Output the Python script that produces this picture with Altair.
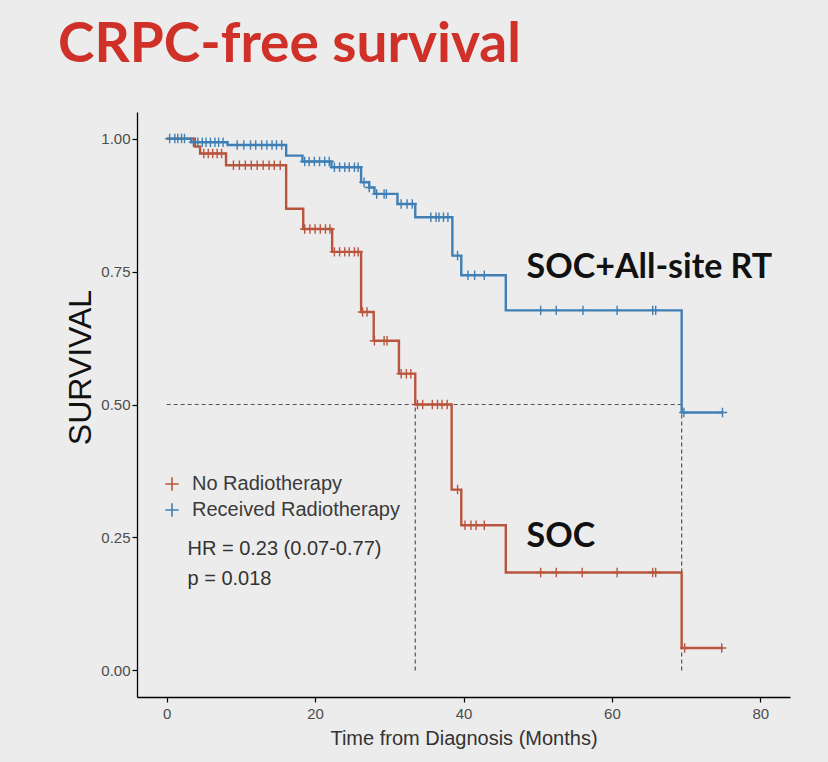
import altair as alt
import pandas as pd

groups = ["No Radiotherapy", "Received Radiotherapy"]
colors = ["#b9553e", "#3f7fb4"]

# Kaplan-Meier step curves (time in months, survival after the step)
red_times = [0, 3.8, 4.5, 8.0, 16.1, 18.4, 22.3, 26.2, 27.9, 31.3, 33.5, 38.4, 39.7, 45.7, 69.4, 75.0]
red_surv = [1.0, 0.985, 0.972, 0.95, 0.868, 0.83, 0.787, 0.674, 0.62, 0.558, 0.50, 0.34, 0.273, 0.184, 0.042, 0.042]
blue_times = [0, 3.3, 8.2, 16.1, 18.3, 22.2, 26.2, 27.3, 28.0, 31.1, 33.5, 38.5, 39.7, 45.7, 69.4, 75.0]
blue_surv = [1.0, 0.993, 0.988, 0.968, 0.957, 0.946, 0.918, 0.908, 0.896, 0.877, 0.852, 0.78, 0.743, 0.677, 0.485, 0.485]

# censoring times
red_censor = [5.0, 5.6, 6.2, 6.8, 7.4, 9.0, 9.8, 10.6, 11.4, 12.2, 13.0, 13.8, 14.5, 15.3,
              18.6, 19.3, 20.0, 20.7, 21.4, 22.0, 22.6, 23.3, 24.0, 24.6, 25.3, 25.8, 26.4, 27.0,
              28.0, 29.3, 29.7, 31.6, 32.3, 32.9, 33.8, 34.5, 35.8, 36.5, 37.1, 37.8, 39.2, 40.2,
              41.0, 41.7, 42.8, 50.4, 52.5, 56.0, 60.7, 65.5, 65.9, 69.8, 74.8]
blue_censor = [0.4, 1.1, 1.5, 2.0, 2.4, 3.6, 4.2, 4.8, 5.3, 5.9, 6.5, 7.0, 7.6, 9.5, 10.4, 11.3,
               12.0, 12.8, 13.5, 14.2, 14.8, 15.5, 18.6, 19.2, 19.9, 20.6, 21.3, 21.9, 22.6, 23.3,
               24.0, 24.6, 25.3, 25.8, 26.6, 27.3, 28.3, 29.3, 29.6, 31.6, 32.4, 33.1, 35.6, 36.3,
               36.7, 37.3, 37.9, 39.2, 40.6, 41.5, 42.8, 50.4, 52.5, 56.1, 60.7, 65.5, 65.9, 69.7, 74.9]

median_times = [33.5, 69.4]

x_ticks = [0, 20, 40, 60, 80]
y_ticks = [0, 0.25, 0.5, 0.75, 1.0]

annotations = ["SOC+All-site RT", "SOC"]
annot_x = [48.5, 48.5]
annot_y = [0.756, 0.25]

stats_text = ["HR = 0.23 (0.07-0.77)", "p = 0.018"]
stats_x = [2.8, 2.8]
stats_y = [0.229, 0.171]


def step_value(times, surv, t):
    v = surv[0]
    for tt, s in zip(times, surv):
        if tt <= t:
            v = s
    return v


curve_rows = []
for g, ts, ss in [(groups[0], red_times, red_surv), (groups[1], blue_times, blue_surv)]:
    for t, s in zip(ts, ss):
        curve_rows.append({"group": g, "time": t, "surv": s})
curves = pd.DataFrame(curve_rows)

cens_rows = []
for g, cs, ts, ss in [(groups[0], red_censor, red_times, red_surv),
                      (groups[1], blue_censor, blue_times, blue_surv)]:
    for c in cs:
        cens_rows.append({"group": g, "time": c, "surv": step_value(ts, ss, c)})
cens = pd.DataFrame(cens_rows)

ref = pd.DataFrame({
    "x": [0, median_times[0], median_times[1]],
    "x2": [median_times[1], median_times[0], median_times[1]],
    "y": [0.5, 0, 0],
    "y2": [0.5, 0.5, 0.5],
})

ann = pd.DataFrame({"label": annotations, "x": annot_x, "y": annot_y})
stats = pd.DataFrame({"label": stats_text, "x": stats_x, "y": stats_y})

xscale = alt.Scale(domain=[-4, 84], nice=False, zero=False)
yscale = alt.Scale(domain=[-0.05, 1.05], nice=False, zero=False)
cscale = alt.Scale(domain=groups, range=colors)

plus_path = "M-1,0L1,0M0,-1L0,1"

x_enc = alt.X("time:Q", scale=xscale,
              axis=alt.Axis(values=x_ticks, title="Time from Diagnosis (Months)"))
y_enc = alt.Y("surv:Q", scale=yscale,
              axis=alt.Axis(values=y_ticks, format=".2f", title="SURVIVAL",
                            titleX=-57, titleY=255, titleAlign="center",
                            titleBaseline="middle", titleAngle=270))

base_ref = alt.Chart(ref).mark_rule(color="#555555", strokeDash=[4, 3], strokeWidth=1.2).encode(
    x=alt.X("x:Q", scale=xscale), x2="x2:Q",
    y=alt.Y("y:Q", scale=yscale), y2="y2:Q",
)

lines = alt.Chart(curves).mark_line(interpolate="step-after", strokeWidth=2.4).encode(
    x=x_enc, y=y_enc,
    color=alt.Color("group:N", scale=cscale,
                    legend=alt.Legend(title=None, orient="none", legendX=25, legendY=362,
                                      symbolType=plus_path, symbolSize=180,
                                      symbolStrokeWidth=1.6, labelFontSize=20,
                                      labelFont="Liberation Sans", labelColor="#3a3a3a",
                                      labelLimit=400, rowPadding=6, labelOffset=10)),
)

ticks = alt.Chart(cens).mark_point(shape=plus_path, filled=False, size=90,
                                    strokeWidth=1.4, opacity=1).encode(
    x="time:Q", y="surv:Q",
    color=alt.Color("group:N", scale=cscale, legend=None),
)

ann_layer = alt.Chart(ann).mark_text(align="left", baseline="middle", font="Lato",
                                     fontWeight="bold", fontSize=34, color="#111111").encode(
    x=alt.X("x:Q", scale=xscale), y=alt.Y("y:Q", scale=yscale), text="label:N")

stats_layer = alt.Chart(stats).mark_text(align="left", baseline="middle", font="Liberation Sans",
                                         fontSize=20, color="#333333").encode(
    x=alt.X("x:Q", scale=xscale), y=alt.Y("y:Q", scale=yscale), text="label:N")

chart = alt.layer(base_ref, lines, ticks, ann_layer, stats_layer).properties(
    width=653, height=585,
    autosize=alt.AutoSizeParams(type="none"),
    padding={"left": 137, "top": 112, "right": 38, "bottom": 65},
    background="#ececec",
    title=alt.TitleParams("CRPC-free survival", anchor="start", frame="group", dx=-79,
                          offset=38, font="Lato", fontSize=55, fontWeight="bold",
                          color="#cf3028"),
).configure_view(stroke=None).configure_axis(
    grid=False, domainColor="#000000", domainWidth=1.3, tickColor="#000000", tickSize=5,
    tickWidth=1.2, labelColor="#4d4d4d", labelFont="Liberation Sans", labelFontSize=15,
    titleFont="Liberation Sans", titleFontWeight="normal",
).configure_axisY(
    titleFontSize=32, titleColor="#111111",
).configure_axisX(
    titleFontSize=20, titleColor="#333333", titlePadding=7, labelPadding=4,
)

chart.save("out.html", embed_options={"renderer": "svg", "actions": False})
